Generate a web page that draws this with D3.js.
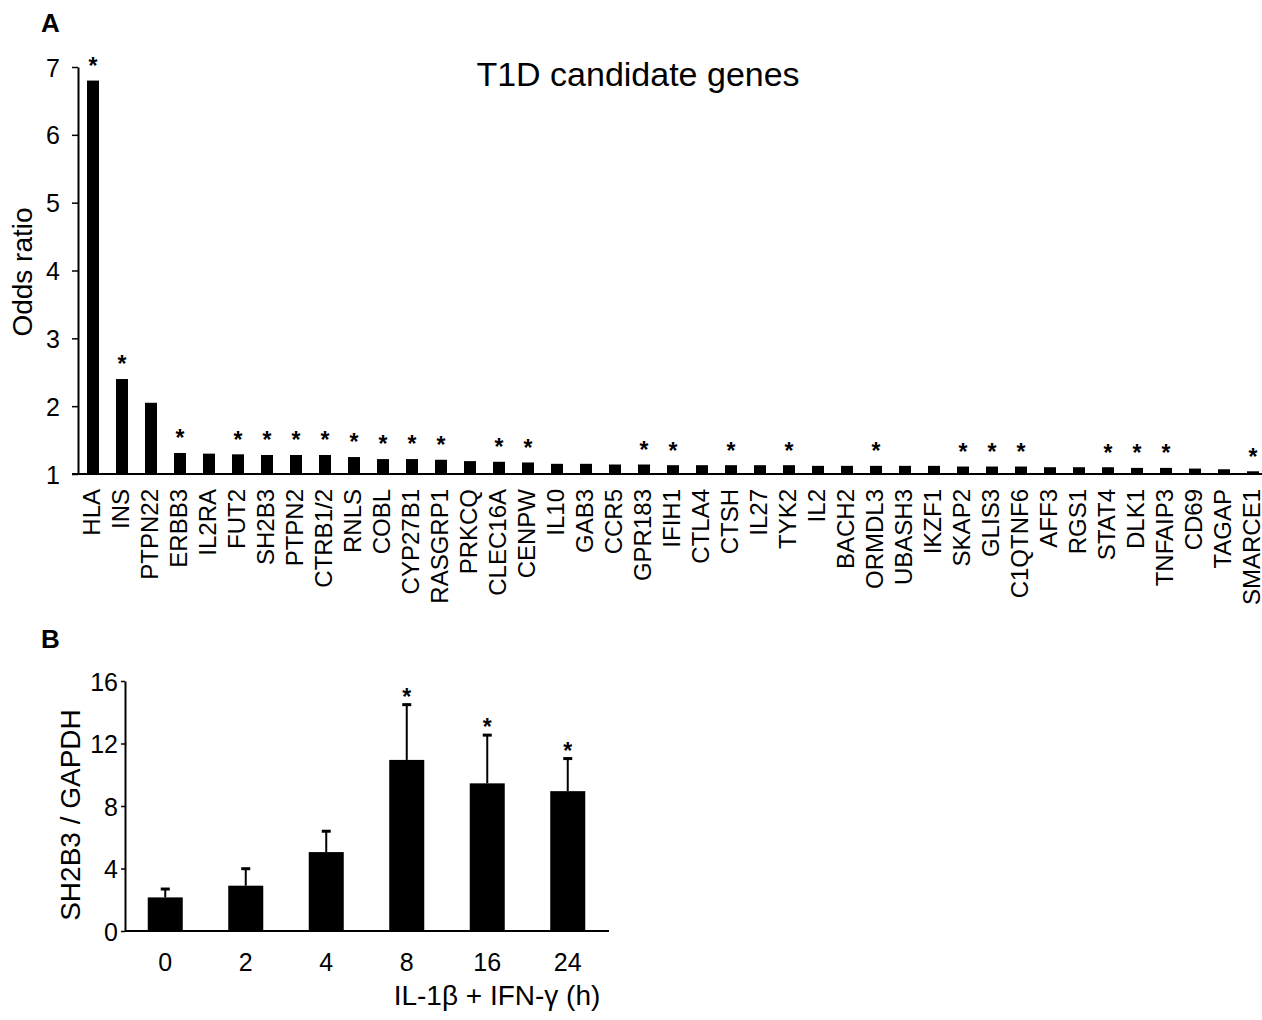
<!DOCTYPE html>
<html>
<head>
<meta charset="utf-8">
<script src="https://cdn.jsdelivr.net/npm/d3@7"></script>
<style>
  body { margin: 0; background: #fff; }
  svg { display: block; }
</style>
</head>
<body>
<div id="chart"></div>
<script>
// panel A data
const genes = ['HLA', 'INS', 'PTPN22', 'ERBB3', 'IL2RA', 'FUT2', 'SH2B3', 'PTPN2', 'CTRB1/2', 'RNLS',
  'COBL', 'CYP27B1', 'RASGRP1', 'PRKCQ', 'CLEC16A', 'CENPW', 'IL10', 'GAB3', 'CCR5', 'GPR183',
  'IFIH1', 'CTLA4', 'CTSH', 'IL27', 'TYK2', 'IL2', 'BACH2', 'ORMDL3', 'UBASH3', 'IKZF1',
  'SKAP2', 'GLIS3', 'C1QTNF6', 'AFF3', 'RGS1', 'STAT4', 'DLK1', 'TNFAIP3', 'CD69', 'TAGAP', 'SMARCE1']
const oddsRatios = [6.8, 2.4, 2.05, 1.31, 1.30, 1.29, 1.28, 1.28, 1.28, 1.25,
  1.22, 1.22, 1.21, 1.19, 1.18, 1.17, 1.15, 1.15, 1.14, 1.14,
  1.13, 1.13, 1.13, 1.13, 1.13, 1.12, 1.12, 1.12, 1.12, 1.12,
  1.11, 1.11, 1.11, 1.10, 1.10, 1.10, 1.09, 1.09, 1.08, 1.07, 1.04]
const starredGenes = ['HLA', 'INS', 'ERBB3', 'FUT2', 'SH2B3', 'PTPN2', 'CTRB1/2', 'RNLS', 'COBL',
  'CYP27B1', 'RASGRP1', 'CLEC16A', 'CENPW', 'GPR183', 'IFIH1', 'CTSH', 'TYK2', 'ORMDL3',
  'SKAP2', 'GLIS3', 'C1QTNF6', 'STAT4', 'DLK1', 'TNFAIP3', 'SMARCE1']
const oddsTicks = [1, 2, 3, 4, 5, 6, 7]

// panel B data
const timepoints = ['0', '2', '4', '8', '16', '24']
const sh2b3Mean = [2.15, 2.9, 5.05, 10.95, 9.45, 8.95]
const sh2b3Sd = [0.6, 1.15, 1.4, 3.6, 3.15, 2.15]
const sh2b3Starred = ['8', '16', '24']
const sh2b3Ticks = [0, 4, 8, 12, 16]

const FONT = "'Liberation Sans', Arial, Helvetica, sans-serif"
const svg = d3.select('#chart').append('svg')
  .attr('width', 1262)
  .attr('height', 1020)
  .style('font-family', FONT)

function star (parent, cx, cy) {
  // asterisk glyph sits ~0.58em above baseline
  const fs = 23
  parent.append('text')
    .attr('x', cx)
    .attr('y', cy + fs * 0.58)
    .attr('text-anchor', 'middle')
    .attr('font-size', fs)
    .attr('font-weight', 'bold')
    .text('*')
}

// ---------- panel A ----------
const gA = svg.append('g')
const xA = d3.scaleBand(genes, [78.5, 1267.5]).paddingInner(0.586).paddingOuter(0.293)
const yA = d3.scaleLinear([1, 7], [474, 67])

gA.selectAll('rect.bar')
  .data(genes)
  .join('rect')
  .attr('class', 'bar')
  .attr('x', d => xA(d))
  .attr('width', xA.bandwidth())
  .attr('y', (d, i) => yA(oddsRatios[i]))
  .attr('height', (d, i) => yA(1) - yA(oddsRatios[i]))
  .attr('fill', '#000')

genes.forEach((g, i) => {
  if (starredGenes.includes(g)) star(gA, xA(g) + xA.bandwidth() / 2, yA(oddsRatios[i]) - 20)
})

const axA = gA.append('g')
  .attr('transform', 'translate(78,0)')
  .call(d3.axisLeft(yA).tickValues(oddsTicks).tickSize(6).tickSizeOuter(0).tickFormat(d3.format('d')))
axA.select('.domain').attr('stroke-width', 2)
axA.selectAll('.tick line').attr('stroke-width', 1.5)
axA.selectAll('.tick text')
  .attr('x', -18)
  .attr('dy', '0.36em')
  .attr('font-size', 25)
  .attr('font-family', FONT)
  .attr('fill', '#000')

gA.append('line')
  .attr('x1', 72).attr('x2', 1262)
  .attr('y1', yA(1)).attr('y2', yA(1))
  .attr('stroke', '#000').attr('stroke-width', 2)

gA.selectAll('text.gene')
  .data(genes)
  .join('text')
  .attr('class', 'gene')
  .attr('transform', d => `translate(${xA(d) + xA.bandwidth() / 2},489) rotate(-90)`)
  .attr('text-anchor', 'end')
  .attr('dy', '0.3em')
  .attr('font-size', 24)
  .text(d => d)

gA.append('text')
  .attr('transform', 'translate(22,272) rotate(-90)')
  .attr('text-anchor', 'middle')
  .attr('dy', '0.36em')
  .attr('font-size', 28)
  .text('Odds ratio')

gA.append('text')
  .attr('x', 638).attr('y', 86)
  .attr('text-anchor', 'middle')
  .attr('font-size', 34)
  .text('T1D candidate genes')

gA.append('text')
  .attr('x', 41).attr('y', 32)
  .attr('font-size', 26)
  .attr('font-weight', 'bold')
  .text('A')

// ---------- panel B ----------
const gB = svg.append('g')
const xB = d3.scaleBand(timepoints, [125, 608]).paddingInner(0.565).paddingOuter(0.2825)
const yB = d3.scaleLinear([0, 16], [931, 681])

gB.selectAll('rect.bar')
  .data(timepoints)
  .join('rect')
  .attr('class', 'bar')
  .attr('x', d => xB(d))
  .attr('width', xB.bandwidth())
  .attr('y', (d, i) => yB(sh2b3Mean[i]))
  .attr('height', (d, i) => yB(0) - yB(sh2b3Mean[i]))
  .attr('fill', '#000')

timepoints.forEach((t, i) => {
  const cx = xB(t) + xB.bandwidth() / 2
  const top = yB(sh2b3Mean[i] + sh2b3Sd[i])
  gB.append('line')
    .attr('x1', cx).attr('x2', cx)
    .attr('y1', yB(sh2b3Mean[i])).attr('y2', top)
    .attr('stroke', '#000').attr('stroke-width', 2)
  gB.append('line')
    .attr('x1', cx - 4.5).attr('x2', cx + 4.5)
    .attr('y1', top + 1).attr('y2', top + 1)
    .attr('stroke', '#000').attr('stroke-width', 3)
  if (sh2b3Starred.includes(t)) star(gB, cx, top - 12)
})

const axB = gB.append('g')
  .attr('transform', 'translate(125,0)')
  .call(d3.axisLeft(yB).tickValues(sh2b3Ticks).tickSize(4).tickSizeOuter(0).tickFormat(d3.format('d')))
axB.select('.domain').attr('stroke-width', 2)
axB.selectAll('.tick line').attr('stroke-width', 1.5)
axB.selectAll('.tick text')
  .attr('x', -7)
  .attr('dy', '0.36em')
  .attr('font-size', 25)
  .attr('font-family', FONT)
  .attr('fill', '#000')

gB.append('line')
  .attr('x1', 125).attr('x2', 609)
  .attr('y1', yB(0)).attr('y2', yB(0))
  .attr('stroke', '#000').attr('stroke-width', 2)

gB.selectAll('text.tp')
  .data(timepoints)
  .join('text')
  .attr('class', 'tp')
  .attr('x', d => xB(d) + xB.bandwidth() / 2)
  .attr('y', 971)
  .attr('text-anchor', 'middle')
  .attr('font-size', 25)
  .text(d => d)

gB.append('text')
  .attr('x', 497).attr('y', 1005)
  .attr('text-anchor', 'middle')
  .attr('font-size', 28)
  .text('IL-1β + IFN-γ (h)')

gB.append('text')
  .attr('transform', 'translate(70,815) rotate(-90)')
  .attr('text-anchor', 'middle')
  .attr('dy', '0.36em')
  .attr('font-size', 28)
  .text('SH2B3 / GAPDH')

gB.append('text')
  .attr('x', 41).attr('y', 648)
  .attr('font-size', 26)
  .attr('font-weight', 'bold')
  .text('B')
</script>
</body>
</html>
